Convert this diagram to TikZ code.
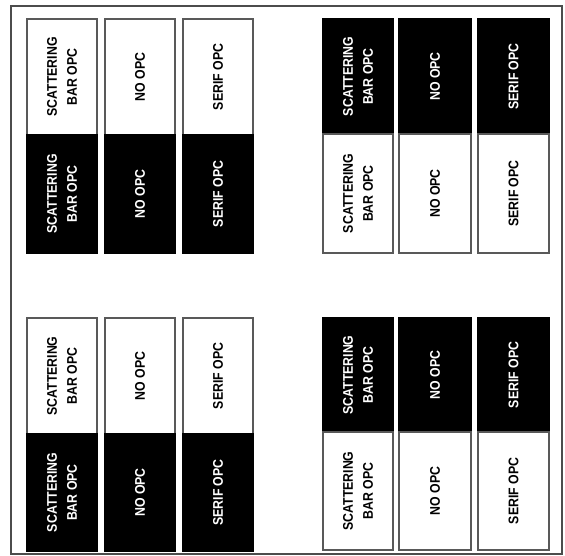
\documentclass[tikz,border=0pt]{standalone}
\usepackage{fontspec}
\newfontfamily\lblfont[FakeStretch=0.88]{Liberation Sans}
\tikzset{
  cellbox/.style={rotate=90, inner sep=0pt, align=center,
    font=\lblfont\bfseries\fontsize{14}{20}\selectfont},
  wbox/.style={cellbox, draw=black!65, line width=1.3pt, fill=white, text=black},
  bbox/.style={cellbox, draw=black, line width=1.3pt, fill=black, text=white},
  frame/.style={draw=black!70, line width=1.6pt}
}
% \cellnode{name}{style}{x1}{x2}{y1}{y2}{text}
\newcommand{\cellnode}[7]{%
  \node[#2, minimum width={(#6-#5)*1pt}, minimum height={(#4-#3)*1pt}]
    (#1) at ({(#3+#4)/2},{(#5+#6)/2}) {#7};}
\begin{document}
\begin{tikzpicture}[x=1pt,y=-1pt]
\useasboundingbox (0,0) rectangle (565,556);
\fill[white] (0,0) rectangle (565,556);
\draw[frame] (11,6) rectangle (562,554);
% top-left group
\cellnode{tl1}{wbox}{27}{97}{19}{135}{SCATTERING\\BAR OPC}
\cellnode{tl2}{wbox}{105}{175}{19}{135}{NO OPC}
\cellnode{tl3}{wbox}{183}{253}{19}{135}{SERIF OPC}
\cellnode{tl4}{bbox}{27}{97}{135}{253}{SCATTERING\\BAR OPC}
\cellnode{tl5}{bbox}{105}{175}{135}{253}{NO OPC}
\cellnode{tl6}{bbox}{183}{253}{135}{253}{SERIF OPC}
% top-right group
\cellnode{tr1}{bbox}{323}{393}{19}{134}{SCATTERING\\BAR OPC}
\cellnode{tr2}{bbox}{399}{471}{19}{134}{NO OPC}
\cellnode{tr3}{bbox}{478}{549}{19}{134}{SERIF OPC}
\cellnode{tr4}{wbox}{323}{393}{134}{253}{SCATTERING\\BAR OPC}
\cellnode{tr5}{wbox}{399}{471}{134}{253}{NO OPC}
\cellnode{tr6}{wbox}{478}{549}{134}{253}{SERIF OPC}
% bottom-left group
\cellnode{bl1}{wbox}{27}{97}{318}{434}{SCATTERING\\BAR OPC}
\cellnode{bl2}{wbox}{105}{175}{318}{434}{NO OPC}
\cellnode{bl3}{wbox}{183}{253}{318}{434}{SERIF OPC}
\cellnode{bl4}{bbox}{27}{97}{434}{551}{SCATTERING\\BAR OPC}
\cellnode{bl5}{bbox}{105}{175}{434}{551}{NO OPC}
\cellnode{bl6}{bbox}{183}{253}{434}{551}{SERIF OPC}
% bottom-right group
\cellnode{br1}{bbox}{323}{393}{318}{432}{SCATTERING\\BAR OPC}
\cellnode{br2}{bbox}{399}{471}{318}{432}{NO OPC}
\cellnode{br3}{bbox}{478}{549}{318}{432}{SERIF OPC}
\cellnode{br4}{wbox}{323}{393}{432}{550}{SCATTERING\\BAR OPC}
\cellnode{br5}{wbox}{399}{471}{432}{550}{NO OPC}
\cellnode{br6}{wbox}{478}{549}{432}{550}{SERIF OPC}
\end{tikzpicture}
\end{document}
